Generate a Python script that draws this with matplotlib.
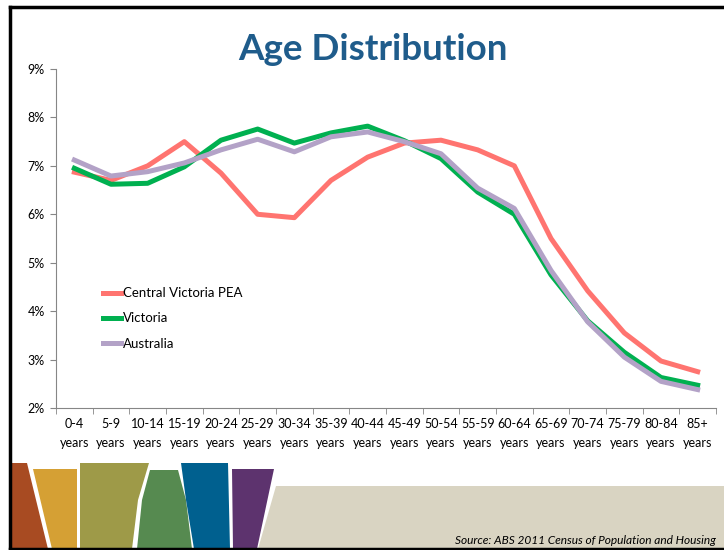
import numpy as np
import matplotlib.pyplot as plt
from matplotlib.patches import Polygon

plt.rcParams['font.family'] = ['Lato', 'DejaVu Sans']

ages = ["0-4", "5-9", "10-14", "15-19", "20-24", "25-29", "30-34", "35-39", "40-44",
        "45-49", "50-54", "55-59", "60-64", "65-69", "70-74", "75-79", "80-84", "85+"]
labels = [a + "\nyears" for a in ages]

central_vic = [6.87, 6.70, 7.00, 7.50, 6.85, 6.00, 5.93, 6.70, 7.18,
               7.47, 7.53, 7.33, 7.00, 5.50, 4.42, 3.55, 2.97, 2.75]
victoria = [6.95, 6.62, 6.64, 6.98, 7.53, 7.76, 7.47, 7.68, 7.82,
            7.52, 7.15, 6.46, 6.00, 4.75, 3.80, 3.15, 2.63, 2.47]
australia = [7.12, 6.79, 6.88, 7.06, 7.33, 7.55, 7.29, 7.60, 7.70,
             7.50, 7.25, 6.54, 6.12, 4.84, 3.78, 3.05, 2.55, 2.38]

fig = plt.figure(figsize=(7.24, 5.5), dpi=100)

# background decoration in pixel coords
bg = fig.add_axes([0, 0, 1, 1])
bg.set_xlim(0, 724)
bg.set_ylim(550, 0)
bg.axis('off')

shapes = [
    ([(10, 463), (27, 463), (48, 549), (10, 549)], '#A84B22'),
    ([(33, 469), (77, 469), (77, 549), (52, 549)], '#D5A034'),
    ([(80, 463), (149, 463), (138, 500), (132, 549), (80, 549)], '#9E9A48'),
    ([(150, 470), (178, 470), (186, 500), (192, 549), (137, 549), (142, 500)], '#568A50'),
    ([(181, 463), (228, 463), (230, 549), (194, 549), (186, 500)], '#00608F'),
    ([(232, 469), (274, 469), (257, 549), (233, 549)], '#5D336E'),
    ([(276, 486), (724, 486), (724, 549), (258, 549)], '#D9D4C2'),
]
for pts, c in shapes:
    bg.add_patch(Polygon(pts, closed=True, facecolor=c, edgecolor='none'))

# slide frame
bg.plot([10, 10], [7, 549], color='black', lw=2.5)
bg.plot([10, 724], [7, 7], color='black', lw=2.5)
bg.plot([10, 724], [549, 549], color='black', lw=2.5)

bg.text(373, 50, "Age Distribution", fontsize=26.5, fontweight='bold',
        color='#1F5C8B', ha='center', va='center')
bg.text(455, 544, "Source: ABS 2011 Census of Population and Housing",
        fontsize=8.6, style='italic', color='black', ha='left', va='baseline')

ax = fig.add_axes([56 / 724, 1 - 408 / 550, 660 / 724, (408 - 69) / 550])
ax.patch.set_alpha(0)
x = np.arange(len(ages))
ax.plot(x, central_vic, color='#FF7470', lw=3.6, label='Central Victoria PEA')
ax.plot(x, victoria, color='#00B050', lw=3.6, label='Victoria')
ax.plot(x, australia, color='#B3A2C7', lw=3.6, label='Australia')

ax.set_xlim(-0.5, len(ages) - 0.5)
ax.set_ylim(2, 9)
ax.set_yticks(range(2, 10))
ax.set_yticklabels([f"{v}%" for v in range(2, 10)], fontsize=9)
ax.set_xticks(x)
ax.set_xticklabels(labels, fontsize=9, linespacing=1.75)
ax.set_xticks(np.arange(-0.5, len(ages)), minor=True)
ax.tick_params(axis='x', which='major', length=0, pad=7)
ax.tick_params(axis='x', which='minor', length=4, color='#868686')
ax.tick_params(axis='y', length=4, color='#868686', pad=4)
for s in ['top', 'right']:
    ax.spines[s].set_visible(False)
for s in ['left', 'bottom']:
    ax.spines[s].set_color('#868686')

ax.legend(loc='upper left', bbox_to_anchor=(0.063, 0.372), frameon=False,
          handlelength=1.4, handletextpad=0.1, labelspacing=1.0, fontsize=9.5,
          borderaxespad=0)

fig.savefig("out.png", dpi=100)
